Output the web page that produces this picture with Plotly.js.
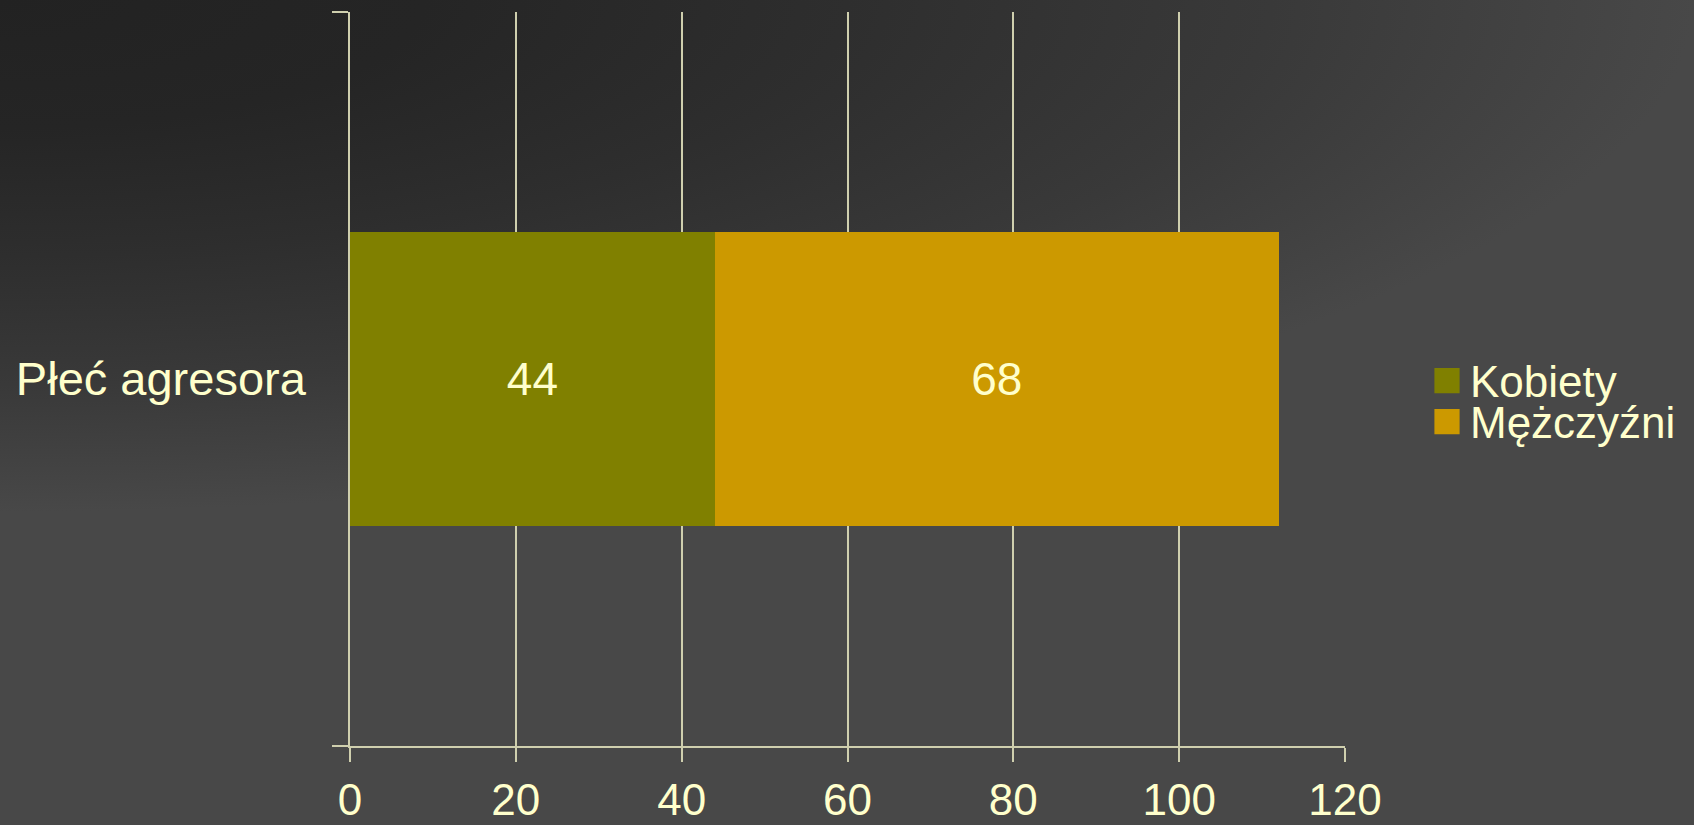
<!DOCTYPE html>
<html>
<head>
<meta charset="utf-8">
<script src="https://cdn.plot.ly/plotly-3.0.1.min.js"></script>
<style>
  html, body { margin: 0; padding: 0; width: 1694px; height: 825px; overflow: hidden; }
  body {
    background-color: #484848;
    background-image: radial-gradient(1694px 512px at 0 0, #222222 0%, #252525 25%, #2e2e2e 50%, #393939 75%, #484848 100%);
    background-repeat: no-repeat;
  }
  #chart { width: 1694px; height: 825px; }
</style>
</head>
<body>
<div id="chart"></div>
<script>
const categories = ["Płeć agresora"];
const seriesNames = ["Kobiety", "Mężczyźni"];
const kobiety = [44];
const mezczyzni = [68];
const xTicks = [0, 20, 40, 60, 80, 100, 120];

const textColor = "#ffffcc";
const lineColor = "#cfcfae";
const font = "Liberation Sans, Arial, sans-serif";

const traces = [
  {
    type: "bar", orientation: "h", name: seriesNames[0],
    y: categories, x: kobiety, width: 0.4,
    marker: { color: "#808000" },
    text: kobiety.map(String), textposition: "inside", insidetextanchor: "middle",
    textfont: { family: font, size: 46, color: textColor },
    hoverinfo: "x+name", legend: "legend"
  },
  {
    type: "bar", orientation: "h", name: seriesNames[1],
    y: categories, x: mezczyzni, width: 0.4,
    marker: { color: "#cc9900" },
    text: mezczyzni.map(String), textposition: "inside", insidetextanchor: "middle",
    textfont: { family: font, size: 46, color: textColor },
    hoverinfo: "x+name", legend: "legend2"
  }
];

const legendCommon = {
  xref: "container", yref: "container",
  xanchor: "left", yanchor: "middle",
  bgcolor: "rgba(0,0,0,0)", borderwidth: 0,
  font: { family: font, size: 44, color: textColor }
};

const legendX = 1430 / 1694;

const layout = {
  width: 1694, height: 825,
  margin: { l: 350, r: 349, t: 12, b: 79 },
  paper_bgcolor: "rgba(0,0,0,0)",
  plot_bgcolor: "rgba(0,0,0,0)",
  barmode: "stack",
  font: { family: font, color: textColor },
  xaxis: {
    range: [0, 120], tickvals: xTicks, ticktext: xTicks.map(String),
    showgrid: true, gridcolor: lineColor, gridwidth: 1.5,
    zeroline: false, showline: true, linecolor: lineColor, linewidth: 1.5,
    ticks: "outside", ticklen: 14, tickcolor: lineColor, tickwidth: 1.5,
    tickfont: { family: font, size: 44, color: textColor },
    ticklabelstandoff: 0, fixedrange: true
  },
  yaxis: {
    type: "category", range: [-0.5, 0.5],
    tickson: "boundaries",
    showgrid: false, zeroline: false,
    showline: true, linecolor: lineColor, linewidth: 1.5,
    ticks: "outside", ticklen: 16, tickcolor: lineColor, tickwidth: 1.5,
    tickfont: { family: font, size: 47, color: textColor },
    ticklabelstandoff: 33, fixedrange: true
  },
  showlegend: true,
  legend: Object.assign({ x: legendX, y: (825 - 380) / 825 }, legendCommon),
  legend2: Object.assign({ x: legendX, y: (825 - 421) / 825 }, legendCommon)
};

Plotly.newPlot("chart", traces, layout, { displayModeBar: false }).then(function (gd) {
  gd.querySelectorAll(".legendpoints path").forEach(function (p) {
    const t = p.getAttribute("transform") || "";
    p.setAttribute("transform", t + " translate(-3,1) scale(2.1)");
  });
});
</script>
</body>
</html>
